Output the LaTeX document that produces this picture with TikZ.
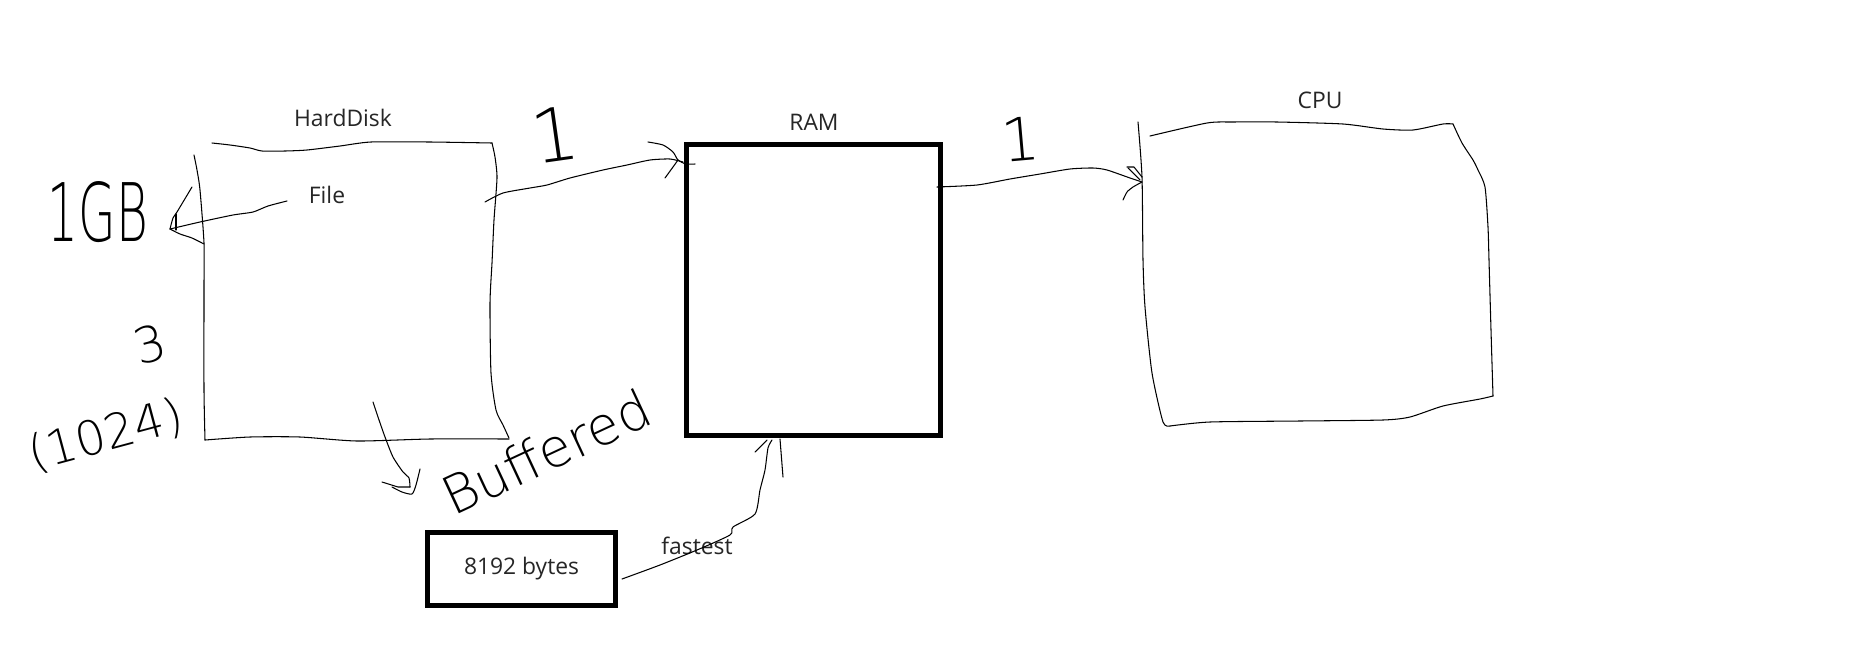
\documentclass[tikz,border=0pt]{standalone}
\usepackage{fontspec}
\setmainfont{Open Sans}
\newfontfamily\handfont{DejaVu Sans ExtraLight}
\begin{document}
\begin{tikzpicture}[x=0.02cm,y=-0.02cm,
  hand/.style={line width=0.6pt, line cap=round, line join=round},
  lab/.style={font=\fontsize{13}{15}\selectfont, text=black!85, inner sep=0pt},
  thickbox/.style={draw, line width=2.85pt, inner sep=0pt},
  scrawl/.style={inner sep=0pt, text=black},
]
\useasboundingbox[fill=white] (0,0) rectangle (1867,653);

% ---------- labels ----------
\node[lab] (hdlabel)  at (343,118) {HardDisk};
\node[lab] (file)     at (327,195) {File};
\node[lab] (ramlabel) at (814,122) {RAM};
\node[lab] (cpulabel) at (1320,100) {CPU};
\node[lab] (fastest)  at (697,546) {fastest};

% ---------- RAM and buffer boxes ----------
\node[thickbox, minimum width=5.08cm, minimum height=5.83cm] (ram) at (813.5,290.25) {};
\node[thickbox, minimum width=3.76cm, minimum height=1.46cm, lab] (buf) at (521.5,569) {8192 bytes};

% ---------- HardDisk (hand drawn) ----------
\draw[hand] plot[smooth, tension=0.4] coordinates {(212,143) (230,145) (250,148) (262,151) (285,151) (307,150) (340,146) (371,142) (430,142) (492,143)};
\draw[hand] plot[smooth, tension=0.4] coordinates {(492,143) (495,157) (497,178) (494,220) (492,263) (490,303) (491,373) (496,410) (503,425) (509,438)};
\draw[hand] plot[smooth, tension=0.4] coordinates {(509,439) (430,439) (357,441) (300,437) (250,437) (205,440)};
\draw[hand] plot[smooth, tension=0.4] coordinates {(205,440) (204,390) (204,287) (204,243) (200,190) (197,170) (194,155)};

% ---------- CPU (hand drawn) ----------
\draw[hand] plot[smooth, tension=0.4] coordinates {(1138,122) (1142,177) (1143,260) (1145,307) (1152,373) (1163,422) (1170,426)};
\draw[hand] plot[smooth, tension=0.4] coordinates {(1170,426) (1210,422) (1300,421) (1383,420) (1410,417) (1443,406) (1480,399) (1493,396)};
\draw[hand] plot[smooth, tension=0.4] coordinates {(1493,396) (1491,330) (1489,260) (1488,227) (1485,187) (1478,170) (1473,160) (1462,143) (1453,124)};
\draw[hand] plot[smooth, tension=0.4] coordinates {(1453,124) (1443,124) (1413,130) (1383,129) (1343,124) (1277,122) (1233,122) (1207,123) (1150,136)};

% ---------- connector end points ----------
\coordinate (filetail) at (287,201);
\coordinate (filetip)  at (170,229);
\coordinate (hdout)    at (485,202);
\coordinate (ramin)    at (683,162);
\coordinate (ramout)   at (937,187);
\coordinate (cpuin)    at (1142,182);
\coordinate (bufout)   at (622,579);
\coordinate (rambot)   at (772,440);
\coordinate (downtail) at (373,402);
\coordinate (downtip)  at (410,487);

% File -> 1GB
\draw[hand] plot[smooth, tension=0.4] coordinates {(filetail) (268,206) (253,212) (233,215) (200,222) (filetip)};
\draw[hand] plot[smooth, tension=0.4] coordinates {(filetip) (173,218) (177,212) (192,187)};
\draw[hand] plot[smooth, tension=0.4] coordinates {(filetip) (180,234) (192,238) (204,244)};
\draw[hand] (176,214) -- (176,230);

% HardDisk -> RAM
\draw[hand] plot[smooth, tension=0.4] coordinates {(hdout) (503,193) (530,188) (547,185) (570,178) (603,170) (627,165) (650,160) (670,159) (ramin)};
\draw[hand] plot[smooth, tension=0.4] coordinates {(648,142) (663,145) (673,152) (678,160) (686,164) (695,164)};
\draw[hand] plot[smooth, tension=0.4] coordinates {(665,178) (673,167) (678,160)};

% RAM -> CPU
\draw[hand] plot[smooth, tension=0.4] coordinates {(ramout) (977,185) (1010,179) (1040,174) (1070,169) (1093,168) (1107,170) (1130,178) (cpuin)};
\draw[hand] (1127,167) -- (1134,167) -- (1142,177);
\draw[hand] (1128,168) -- (1140,180);
\draw[hand] plot[smooth, tension=0.4] coordinates {(1123,200) (1127,192) (1133,187) (cpuin)};

% buffer -> RAM (fastest)
\draw[hand] plot[smooth, tension=0.4] coordinates {(bufout) (660,565) (697,550) (730,535) (733,527) (755,514) (760,490) (765,470) (768,448) (rambot)};
\draw[hand] (755,452) -- (767,440);
\draw[hand] (780,439) -- (783,477);

% HardDisk -> buffer (down stroke)
\draw[hand] plot[smooth, tension=0.4] coordinates {(downtail) (378,417) (385,437) (393,457) (403,472) (409,478) (downtip)};
\draw[hand] (382,482) -- (398,487) -- (downtip);
\draw[hand] plot[smooth, tension=0.4] coordinates {(420,469) (416,485) (412,494) (402,492) (392,487)};

% ---------- handwritten texts ----------
\node[scrawl, font=\handfont\fontsize{46}{46}\selectfont, xscale=0.6] (gb) at (98,212) {1GB};
\node[scrawl, font=\handfont\fontsize{27}{27}\selectfont, rotate=15] (kb) at (106,436) {(1024)};
\node[scrawl, font=\handfont\fontsize{28}{28}\selectfont, rotate=15] (cube) at (150,344) {3};
\node[scrawl, font=\handfont\fontsize{30}{30}\selectfont, rotate=25] (buffered) at (546,452) {Buffered};
\node[scrawl, font=\handfont\fontsize{42}{42}\selectfont, rotate=8] (one) at (555,135) {1};
\node[scrawl, font=\handfont\fontsize{34}{34}\selectfont, rotate=5] (onb) at (1021,139) {1};
\end{tikzpicture}
\end{document}
